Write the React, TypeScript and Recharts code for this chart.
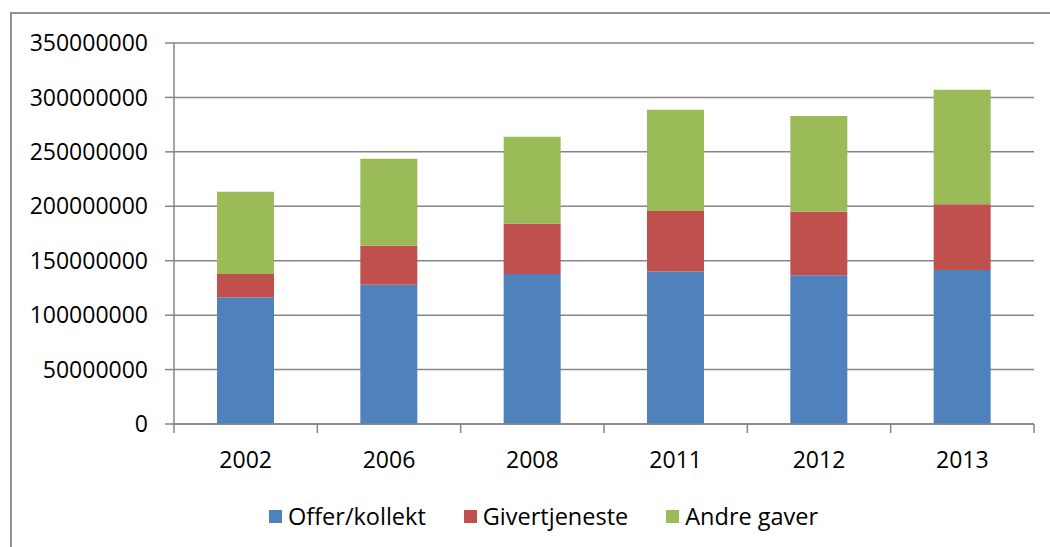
import { Bar, BarChart, CartesianGrid, XAxis, YAxis } from "recharts";

// years on the category axis
const years = ["2002", "2006", "2008", "2011", "2012", "2013"];

// stacked series, NOK
const offerKollekt = [116200000, 128000000, 137800000, 140200000, 136600000, 141500000];
const givertjeneste = [21500000, 35800000, 46500000, 55500000, 58400000, 60300000];
const andreGaver = [75600000, 79900000, 79600000, 93000000, 87900000, 105300000];

const yTicks = [0, 50000000, 100000000, 150000000, 200000000, 250000000, 300000000, 350000000];

const series = [
  { key: "offer", name: "Offer/kollekt", color: "#4F81BD", values: offerKollekt },
  { key: "giver", name: "Givertjeneste", color: "#C0504D", values: givertjeneste },
  { key: "andre", name: "Andre gaver", color: "#9BBB59", values: andreGaver },
];

const data = years.map((year, i) => {
  const row: Record<string, string | number> = { year };
  series.forEach((s) => (row[s.key] = s.values[i]));
  return row;
});

const W = 1050;
const H = 547;
const Y_AXIS_W = 174;
const RIGHT = 16;
const TOP = 43;
const X_AXIS_H = 123;
const GRID = "#868686";
const FONT = "'Open Sans', sans-serif";
const HALF_BAND = (W - Y_AXIS_W - RIGHT) / years.length / 2;

// Excel-style category axis: tick marks sit between categories, not under them
function YearTick(props: any) {
  const { x, y, payload, index } = props;
  return (
    <g>
      <line x1={x - HALF_BAND} x2={x - HALF_BAND} y1={y} y2={y + 9} stroke={GRID} strokeWidth={1.5} />
      {index === years.length - 1 && (
        <line x1={x + HALF_BAND} x2={x + HALF_BAND} y1={y} y2={y + 9} stroke={GRID} strokeWidth={1.5} />
      )}
      <text x={x} y={y + 36} dy="0.35em" textAnchor="middle" fill="#000" fontSize={23} fontFamily={FONT}>
        {payload.value}
      </text>
    </g>
  );
}

export default function App() {
  return (
    <div style={{ position: "absolute", left: 0, top: 0, width: W, height: H, background: "#fff", overflow: "hidden" }}>
      <div
        style={{
          position: "absolute",
          left: 10,
          top: 12,
          width: W,
          height: H,
          border: "2px solid #939393",
          boxSizing: "border-box",
        }}
      />
      <BarChart
        width={W}
        height={H}
        data={data}
        margin={{ top: TOP, right: RIGHT, bottom: 0, left: 0 }}
        barCategoryGap="30%"
        style={{ position: "absolute", left: 0, top: 0 }}
      >
        <CartesianGrid vertical={false} stroke={GRID} strokeWidth={1.5} />
        <XAxis
          dataKey="year"
          height={X_AXIS_H}
          axisLine={{ stroke: GRID, strokeWidth: 1.5 }}
          tickLine={false}
          tickSize={0}
          tickMargin={0}
          interval={0}
          tick={<YearTick />}
        />
        <YAxis
          width={Y_AXIS_W}
          domain={[0, 350000000]}
          ticks={yTicks}
          interval={0}
          tickFormatter={(v) => String(v)}
          axisLine={{ stroke: GRID, strokeWidth: 1.5 }}
          tickLine={{ stroke: GRID, strokeWidth: 1.5 }}
          tickSize={9}
          tickMargin={17}
          tick={{ fill: "#000", fontSize: 23, fontFamily: FONT }}
        />
        {series.map((s) => (
          <Bar key={s.key} dataKey={s.key} name={s.name} stackId="a" fill={s.color} isAnimationActive={false} />
        ))}
      </BarChart>
      <div
        style={{
          position: "absolute",
          left: 269,
          top: 503,
          height: 26,
          display: "flex",
          alignItems: "center",
          fontFamily: FONT,
          fontSize: 23.5,
          color: "#000",
          whiteSpace: "nowrap",
        }}
      >
        {series.map((s) => (
          <div key={s.key} style={{ display: "flex", alignItems: "center", marginRight: 38 }}>
            <span style={{ display: "inline-block", width: 13, height: 13, background: s.color, marginRight: 6 }} />
            <span>{s.name}</span>
          </div>
        ))}
      </div>
    </div>
  );
}
